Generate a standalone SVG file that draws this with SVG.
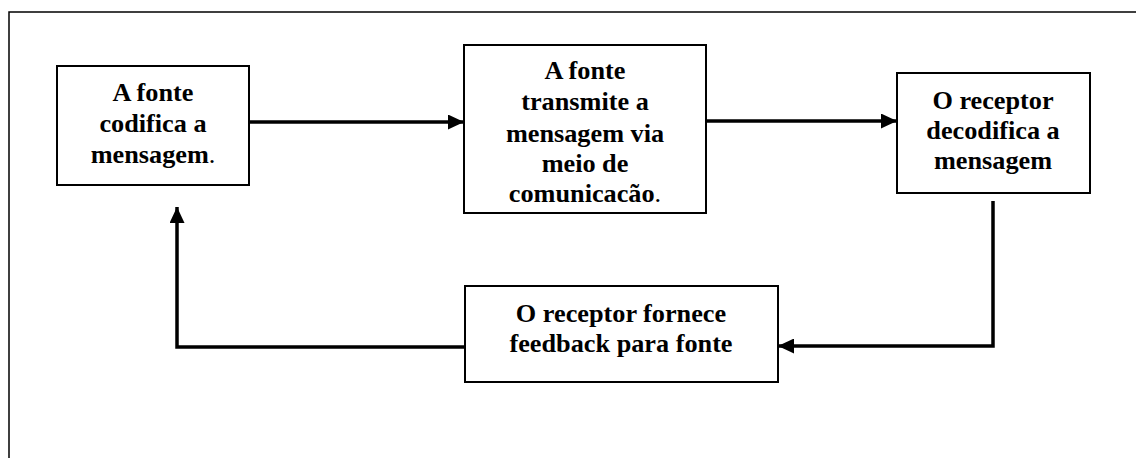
<svg xmlns="http://www.w3.org/2000/svg" width="1136" height="458" viewBox="0 0 1136 458">
  <style>
    .box { fill: #ffffff; stroke: #000000; stroke-width: 2; }
    .lbl { font-family: "Liberation Serif", "Times New Roman", serif; font-weight: bold; font-size: 25px; fill: #000000; text-anchor: middle; }
    .thin { font-weight: normal; }
    .conn { fill: none; stroke: #000000; stroke-width: 3.5; }
  </style>
  <defs>
    <marker id="arr" markerUnits="userSpaceOnUse" markerWidth="17" markerHeight="15" refX="16" refY="7.5" orient="auto">
      <path d="M0,0 L16,7.5 L0,15 Z" fill="#000000"/>
    </marker>
  </defs>
  <rect x="9" y="12" width="1200" height="500" fill="#ffffff" stroke="#000000" stroke-width="1.5"/>

  <g id="connectors">
    <line class="conn" x1="249" y1="122" x2="464" y2="122" marker-end="url(#arr)"/>
    <line class="conn" x1="706" y1="121" x2="897" y2="121" marker-end="url(#arr)"/>
    <polyline class="conn" points="993,201 993,346 778,346" marker-end="url(#arr)"/>
    <polyline class="conn" points="465,347 177,347 177,207" marker-end="url(#arr)"/>
  </g>

  <g id="node-codifica">
    <rect class="box" x="57" y="66" width="192" height="119"/>
    <g transform="translate(153 0) scale(1.05 1)">
      <text class="lbl" x="0" y="101">A fonte</text>
      <text class="lbl" x="0" y="132">codifica a</text>
      <text class="lbl" x="0" y="163">mensagem<tspan class="thin">.</tspan></text>
    </g>
  </g>

  <g id="node-transmite">
    <rect class="box" x="464" y="45" width="242" height="168"/>
    <g transform="translate(585 0) scale(1.05 1)">
      <text class="lbl" x="0" y="79">A fonte</text>
      <text class="lbl" x="0" y="110">transmite a</text>
      <text class="lbl" x="0" y="142">mensagem via</text>
      <text class="lbl" x="0" y="172">meio de</text>
      <text class="lbl" x="0" y="202">comunicacão<tspan class="thin">.</tspan></text>
    </g>
  </g>

  <g id="node-decodifica">
    <rect class="box" x="897" y="73" width="193" height="120"/>
    <g transform="translate(993 0) scale(1.05 1)">
      <text class="lbl" x="0" y="109">O receptor</text>
      <text class="lbl" x="0" y="139">decodifica a</text>
      <text class="lbl" x="0" y="169">mensagem</text>
    </g>
  </g>

  <g id="node-feedback">
    <rect class="box" x="465" y="286" width="313" height="96"/>
    <g transform="translate(621 0) scale(1.05 1)">
      <text class="lbl" x="0" y="322">O receptor fornece</text>
      <text class="lbl" x="0" y="352">feedback para fonte</text>
    </g>
  </g>
</svg>
